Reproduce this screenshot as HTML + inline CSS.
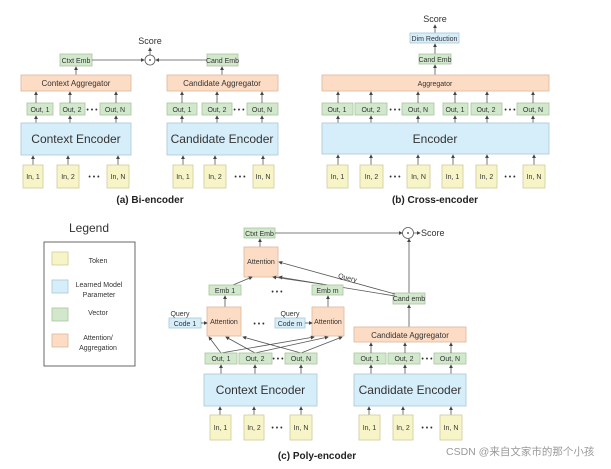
<!DOCTYPE html>
<html><head><meta charset="utf-8"><style>
body{margin:0;background:#fff}
svg{display:block}
text{font-family:"Liberation Sans",sans-serif;fill:#333}
.y{fill:#f7f5c8;stroke:#cfcc9a;stroke-width:.8}
.b{fill:#d6edfa;stroke:#a9c8d8;stroke-width:.8}
.g{fill:#d2e8cc;stroke:#a8c4a0;stroke-width:.8}
.o{fill:#fcdcc4;stroke:#dcb89c;stroke-width:.8}
.s{font-size:7px;text-anchor:middle}
.m{font-size:8px;text-anchor:middle}
.l{font-size:12px;text-anchor:middle}
.t{font-size:10px;font-weight:bold;text-anchor:middle;fill:#222}
line,path.a{stroke:#555;stroke-width:.8;fill:none;marker-end:url(#ar)}
</style></head><body>
<svg width="611" height="469" viewBox="0 0 611 469" xmlns="http://www.w3.org/2000/svg">
<defs><marker id="ar" markerWidth="5" markerHeight="5" refX="4" refY="2.5" orient="auto"><path d="M0,0L5,2.5L0,5z" fill="#444"/></marker></defs>

<!-- (a) Bi-encoder -->
<text x="150" y="44" class="m" style="font-size:9px">Score</text>
<line x1="150" y1="55" x2="150" y2="48"/>
<circle cx="150" cy="60" r="5" fill="#fff" stroke="#555" stroke-width=".8"/><circle cx="150" cy="60" r="0.9" fill="#333"/>
<rect x="60" y="54" width="32" height="12" class="g"/><text x="76" y="63" class="s">Ctxt Emb</text>
<rect x="207" y="54" width="31" height="12" class="g"/><text x="222.5" y="63" class="s">Cand Emb</text>
<line x1="92" y1="60" x2="144" y2="60"/><line x1="207" y1="60" x2="156" y2="60"/>
<line x1="76" y1="75" x2="76" y2="67"/><line x1="222" y1="75" x2="222" y2="67"/>
<rect x="21" y="75" width="110" height="16" class="o"/><text x="76" y="86" class="m">Context Aggregator</text>
<rect x="167" y="75" width="111" height="16" class="o"/><text x="222" y="86" class="m">Candidate Aggregator</text>
<g>
<rect x="27" y="103" width="26" height="12" class="g"/><text x="40" y="112" class="s">Out, 1</text>
<rect x="60" y="103" width="25" height="12" class="g"/><text x="72" y="112" class="s">Out, 2</text>
<rect x="100" y="103" width="31" height="12" class="g"/><text x="115" y="112" class="s">Out, N</text>
<text x="92" y="112" class="s">• • •</text>
<rect x="167" y="103" width="30" height="12" class="g"/><text x="182" y="112" class="s">Out, 1</text>
<rect x="202" y="103" width="30" height="12" class="g"/><text x="217" y="112" class="s">Out, 2</text>
<rect x="247" y="103" width="31" height="12" class="g"/><text x="262" y="112" class="s">Out, N</text>
<text x="239" y="112" class="s">• • •</text>
</g>
<line x1="36" y1="103" x2="36" y2="92"/><line x1="70" y1="103" x2="70" y2="92"/><line x1="116" y1="103" x2="116" y2="92"/>
<line x1="182" y1="103" x2="182" y2="92"/><line x1="217" y1="103" x2="217" y2="92"/><line x1="262" y1="103" x2="262" y2="92"/>
<line x1="36" y1="123" x2="36" y2="116"/><line x1="70" y1="123" x2="70" y2="116"/><line x1="116" y1="123" x2="116" y2="116"/>
<line x1="182" y1="123" x2="182" y2="116"/><line x1="217" y1="123" x2="217" y2="116"/><line x1="262" y1="123" x2="262" y2="116"/>
<rect x="21" y="123" width="110" height="32" class="b"/><text x="76" y="143" class="l">Context Encoder</text>
<rect x="167" y="123" width="111" height="32" class="b"/><text x="222" y="143" class="l">Candidate Encoder</text>
<line x1="33" y1="165" x2="33" y2="156"/><line x1="68" y1="165" x2="68" y2="156"/><line x1="118" y1="165" x2="118" y2="156"/>
<line x1="183" y1="165" x2="183" y2="156"/><line x1="215" y1="165" x2="215" y2="156"/><line x1="263" y1="165" x2="263" y2="156"/>
<rect x="23" y="165" width="20" height="23" class="y"/><text x="33" y="179" class="s">In, 1</text>
<rect x="57" y="165" width="22" height="23" class="y"/><text x="68" y="179" class="s">In, 2</text>
<rect x="107" y="165" width="22" height="23" class="y"/><text x="118" y="179" class="s">In, N</text>
<text x="94" y="179" class="s">• • •</text>
<rect x="173" y="165" width="20" height="23" class="y"/><text x="183" y="179" class="s">In, 1</text>
<rect x="204" y="165" width="22" height="23" class="y"/><text x="215" y="179" class="s">In, 2</text>
<rect x="253" y="165" width="21" height="23" class="y"/><text x="263" y="179" class="s">In, N</text>
<text x="240" y="179" class="s">• • •</text>
<text x="150" y="203" class="t">(a) Bi-encoder</text>

<!-- (b) Cross-encoder -->
<text x="435" y="22" class="m" style="font-size:9px">Score</text>
<line x1="435" y1="33" x2="435" y2="25"/>
<rect x="410" y="33" width="49" height="10" class="b"/><text x="434.5" y="41" class="s">Dim Reduction</text>
<line x1="435" y1="54" x2="435" y2="44"/>
<rect x="419" y="54" width="32" height="10" class="g"/><text x="435" y="62" class="s">Cand Emb</text>
<line x1="435" y1="75" x2="435" y2="65"/>
<rect x="322" y="75" width="227" height="16" class="o"/><text x="435" y="86" class="s">Aggregator</text>
<rect x="322" y="103" width="31" height="12" class="g"/><text x="337" y="112" class="s">Out, 1</text>
<rect x="355" y="103" width="32" height="12" class="g"/><text x="371" y="112" class="s">Out, 2</text>
<rect x="402" y="103" width="32" height="12" class="g"/><text x="418" y="112" class="s">Out, N</text>
<rect x="443" y="103" width="25" height="12" class="g"/><text x="455" y="112" class="s">Out, 1</text>
<rect x="471" y="103" width="31" height="12" class="g"/><text x="486" y="112" class="s">Out, 2</text>
<rect x="517" y="103" width="32" height="12" class="g"/><text x="533" y="112" class="s">Out, N</text>
<text x="395" y="112" class="s">• • •</text><text x="510" y="112" class="s">• • •</text>
<g>
<line x1="338" y1="103" x2="338" y2="92"/><line x1="371" y1="103" x2="371" y2="92"/><line x1="418" y1="103" x2="418" y2="92"/><line x1="455" y1="103" x2="455" y2="92"/><line x1="487" y1="103" x2="487" y2="92"/><line x1="533" y1="103" x2="533" y2="92"/>
<line x1="338" y1="123" x2="338" y2="116"/><line x1="371" y1="123" x2="371" y2="116"/><line x1="418" y1="123" x2="418" y2="116"/><line x1="455" y1="123" x2="455" y2="116"/><line x1="487" y1="123" x2="487" y2="116"/><line x1="533" y1="123" x2="533" y2="116"/>
<line x1="338" y1="165" x2="338" y2="155"/><line x1="371" y1="165" x2="371" y2="155"/><line x1="418" y1="165" x2="418" y2="155"/><line x1="453" y1="165" x2="453" y2="155"/><line x1="487" y1="165" x2="487" y2="155"/><line x1="534" y1="165" x2="534" y2="155"/>
</g>
<rect x="322" y="123" width="227" height="31" class="b"/><text x="435" y="143" class="l">Encoder</text>
<rect x="327" y="165" width="21" height="23" class="y"/><text x="337.5" y="179" class="s">In, 1</text>
<rect x="360" y="165" width="23" height="23" class="y"/><text x="371.5" y="179" class="s">In, 2</text>
<rect x="407" y="165" width="23" height="23" class="y"/><text x="418.5" y="179" class="s">In, N</text>
<rect x="442" y="165" width="21" height="23" class="y"/><text x="452.5" y="179" class="s">In, 1</text>
<rect x="476" y="165" width="21" height="23" class="y"/><text x="486.5" y="179" class="s">In, 2</text>
<rect x="523" y="165" width="22" height="23" class="y"/><text x="534" y="179" class="s">In, N</text>
<text x="395" y="179" class="s">• • •</text><text x="510" y="179" class="s">• • •</text>
<text x="435" y="203" class="t">(b) Cross-encoder</text>

<!-- Legend -->
<text x="89" y="232" class="l">Legend</text>
<rect x="44" y="242" width="91" height="124" fill="#fff" stroke="#444" stroke-width=".8"/>
<rect x="52" y="252" width="16" height="13" class="y"/><text x="98" y="263" class="s">Token</text>
<rect x="52" y="280" width="16" height="13" class="b"/><text x="99" y="287" class="s">Learned Model</text><text x="99" y="297" class="s">Parameter</text>
<rect x="52" y="308" width="16" height="13" class="g"/><text x="98" y="315" class="s">Vector</text>
<rect x="52" y="334" width="16" height="13" class="o"/><text x="98" y="340" class="s">Attention/</text><text x="98" y="350" class="s">Aggregation</text>

<!-- (c) Poly-encoder -->
<rect x="244" y="228" width="31" height="10" class="g"/><text x="259.5" y="236" class="s">Ctxt Emb</text>
<line x1="275" y1="233" x2="402" y2="233"/>
<circle cx="408" cy="233" r="5.5" fill="#fff" stroke="#555" stroke-width=".8"/><circle cx="408" cy="233" r="0.9" fill="#333"/>
<line x1="414" y1="233" x2="420" y2="233"/><text x="421" y="236" style="font-size:9px">Score</text>
<line x1="409" y1="293" x2="409" y2="239"/>
<rect x="393" y="293" width="32" height="11" class="g"/><text x="409" y="301" class="s">Cand emb</text>
<line x1="409" y1="327" x2="409" y2="305"/>
<line x1="260" y1="247" x2="260" y2="239"/>
<rect x="244" y="247" width="34" height="30" class="o"/><text x="261" y="264" class="s">Attention</text>
<line x1="395" y1="294" x2="279" y2="262"/><line x1="395" y1="296" x2="279" y2="277"/>
<text x="347" y="280" class="s" transform="rotate(14 347 280)">Query</text>
<line x1="233" y1="285" x2="252" y2="277"/><line x1="328" y1="285" x2="273" y2="277"/>
<rect x="209" y="285" width="32" height="10" class="g"/><text x="225" y="293" class="s">Emb 1</text>
<rect x="312" y="285" width="31" height="10" class="g"/><text x="327.5" y="293" class="s">Emb m</text>
<text x="277" y="294" class="s">• • •</text>
<line x1="225" y1="307" x2="225" y2="296"/><line x1="328" y1="307" x2="328" y2="296"/>
<rect x="207" y="307" width="34" height="29" class="o"/><text x="224" y="324" class="s">Attention</text>
<rect x="312" y="307" width="32" height="29" class="o"/><text x="328" y="324" class="s">Attention</text>
<text x="180" y="316" class="s">Query</text><text x="290" y="316" class="s">Query</text>
<rect x="169" y="318" width="32" height="10" class="b"/><text x="185" y="326" class="s">Code 1</text>
<rect x="275" y="318" width="30" height="10" class="b"/><text x="290" y="326" class="s">Code m</text>
<line x1="201" y1="323" x2="207" y2="323"/><line x1="305" y1="323" x2="312" y2="323"/>
<text x="259" y="326" class="s">• • •</text>
<!-- crossing lines -->
<line x1="221" y1="353" x2="209" y2="337"/><line x1="221" y1="353" x2="314" y2="337"/>
<line x1="255" y1="353" x2="226" y2="337"/><line x1="255" y1="353" x2="328" y2="337"/>
<line x1="301" y1="353" x2="243" y2="337"/><line x1="301" y1="353" x2="342" y2="337"/>
<rect x="354" y="327" width="112" height="15" class="o"/><text x="410" y="338" class="m">Candidate Aggregator</text>
<rect x="205" y="353" width="32" height="11" class="g"/><text x="221" y="361" class="s">Out, 1</text>
<rect x="239" y="353" width="33" height="11" class="g"/><text x="255" y="361" class="s">Out, 2</text>
<rect x="285" y="353" width="32" height="11" class="g"/><text x="301" y="361" class="s">Out, N</text>
<text x="278" y="361" class="s">• • •</text>
<rect x="354" y="353" width="32" height="11" class="g"/><text x="370" y="361" class="s">Out, 1</text>
<rect x="388" y="353" width="32" height="11" class="g"/><text x="404" y="361" class="s">Out, 2</text>
<rect x="434" y="353" width="32" height="11" class="g"/><text x="450" y="361" class="s">Out, N</text>
<text x="427" y="361" class="s">• • •</text>
<line x1="371" y1="353" x2="371" y2="343"/><line x1="405" y1="353" x2="405" y2="343"/><line x1="451" y1="353" x2="451" y2="343"/>
<line x1="221" y1="374" x2="221" y2="365"/><line x1="255" y1="374" x2="255" y2="365"/><line x1="301" y1="374" x2="301" y2="365"/>
<line x1="371" y1="374" x2="371" y2="365"/><line x1="405" y1="374" x2="405" y2="365"/><line x1="451" y1="374" x2="451" y2="365"/>
<rect x="204" y="374" width="113" height="32" class="b"/><text x="260.5" y="394" class="l">Context Encoder</text>
<rect x="354" y="374" width="112" height="32" class="b"/><text x="410" y="394" class="l">Candidate Encoder</text>
<line x1="220" y1="415" x2="220" y2="407"/><line x1="254" y1="415" x2="254" y2="407"/><line x1="301" y1="415" x2="301" y2="407"/>
<line x1="369" y1="415" x2="369" y2="407"/><line x1="403" y1="415" x2="403" y2="407"/><line x1="451" y1="415" x2="451" y2="407"/>
<rect x="210" y="415" width="21" height="25" class="y"/><text x="220.5" y="430" class="s">In, 1</text>
<rect x="244" y="415" width="20" height="25" class="y"/><text x="254" y="430" class="s">In, 2</text>
<rect x="290" y="415" width="22" height="25" class="y"/><text x="301" y="430" class="s">In, N</text>
<text x="277" y="430" class="s">• • •</text>
<rect x="359" y="415" width="21" height="25" class="y"/><text x="369.5" y="430" class="s">In, 1</text>
<rect x="393" y="415" width="20" height="25" class="y"/><text x="403" y="430" class="s">In, 2</text>
<rect x="440" y="415" width="22" height="25" class="y"/><text x="451" y="430" class="s">In, N</text>
<text x="427" y="430" class="s">• • •</text>
<text x="317" y="459" class="t">(c) Poly-encoder</text>
<text x="446" y="455" style="font-size:10.5px;fill:#999;font-family:'Liberation Sans','Noto Sans CJK SC',sans-serif">CSDN @来自文家市的那个小孩</text>
</svg>
</body></html>
